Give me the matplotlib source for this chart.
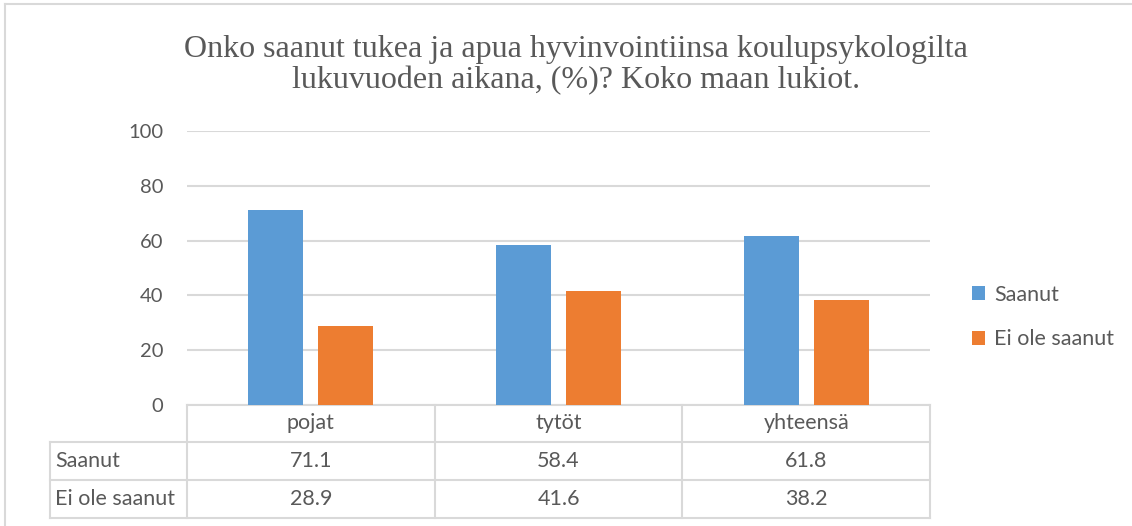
import matplotlib.pyplot as plt
import numpy as np
from matplotlib.lines import Line2D
from matplotlib.transforms import blended_transform_factory

categories = ["pojat", "tytöt", "yhteensä"]
series_names = ["Saanut", "Ei ole saanut"]
saanut = [71.1, 58.4, 61.8]
ei_ole_saanut = [28.9, 41.6, 38.2]
y_ticks = [0, 20, 40, 60, 80, 100]
title = "Onko saanut tukea ja apua hyvinvointiinsa koulupsykologilta\nlukuvuoden aikana, (%)? Koko maan lukiot."

colors = ["#5B9BD5", "#ED7D31"]
text_col = "#595959"
line_col = "#D9D9D9"
font = ["Lato", "DejaVu Sans"]

plt.rcParams["font.family"] = font

fig = plt.figure(figsize=(11.32, 5.26), dpi=100)
ax = fig.add_axes([187 / 1132, 1 - 405 / 526, 743 / 1132, 274 / 526])

x = np.arange(len(categories))
width = 0.222
offset = 0.141
values = [saanut, ei_ole_saanut]
for i, (name, vals) in enumerate(zip(series_names, values)):
    ax.bar(x + (i * 2 - 1) * offset, vals, width, color=colors[i], label=name, zorder=3)

ax.set_xlim(-0.5, len(categories) - 0.5)
ax.set_ylim(0, 100)
ax.set_yticks(y_ticks)
ax.set_yticklabels([str(t) for t in y_ticks])
ax.tick_params(axis="y", length=0, pad=17, labelsize=14.5, labelcolor=text_col)
ax.set_xticks([])
for s in ax.spines.values():
    s.set_visible(False)
ax.grid(axis="y", color=line_col, linewidth=1.5, zorder=0)

# data table under the plot
tr = blended_transform_factory(ax.transData, ax.transAxes)
row_y = [0, -0.135, -0.274, -0.412]
x_left = -0.5 - (187 - 50) / 743 * len(categories)
x_right = len(categories) - 0.5
lk = dict(color=line_col, linewidth=1.5, transform=tr, clip_on=False)
ax.add_line(Line2D([-0.5, x_right], [row_y[0], row_y[0]], **lk))
for yy in row_y[1:]:
    ax.add_line(Line2D([x_left, x_right], [yy, yy], **lk))
for xx in np.arange(len(categories) + 1) - 0.5:
    ax.add_line(Line2D([xx, xx], [row_y[0], row_y[-1]], **lk))
ax.add_line(Line2D([x_left, x_left], [row_y[1], row_y[-1]], **lk))

tk = dict(transform=tr, fontsize=15.5, color=text_col, va="center")
for j, cat in enumerate(categories):
    ax.text(j, (row_y[0] + row_y[1]) / 2, cat, ha="center", **tk)
for r, (name, vals) in enumerate(zip(series_names, values)):
    yc = (row_y[r + 1] + row_y[r + 2]) / 2
    ax.text(x_left + 0.022, yc, name, ha="left", **tk)
    for j, v in enumerate(vals):
        ax.text(j, yc, f"{v:.1f}", ha="center", **tk)

ax.legend(loc="center left", bbox_to_anchor=(953 / 1132, 1 - 317 / 526),
          bbox_transform=fig.transFigure, frameon=False, fontsize=15.5,
          handlelength=0.6, handleheight=0.6, handletextpad=0.4,
          labelspacing=1.15, labelcolor=text_col)

fig.text(0.509, 1 - 65 / 526, title, ha="center", va="center", fontsize=23,
         family="Liberation Serif", color=text_col, linespacing=1.1)

# chart border (top and left visible)
fig.add_artist(Line2D([5 / 1132, 1.01], [1 - 4 / 526, 1 - 4 / 526], color=line_col, linewidth=1.5))
fig.add_artist(Line2D([5 / 1132, 5 / 1132], [-0.01, 1 - 4 / 526], color=line_col, linewidth=1.5))

fig.savefig("out.png", dpi=100, facecolor="white")
